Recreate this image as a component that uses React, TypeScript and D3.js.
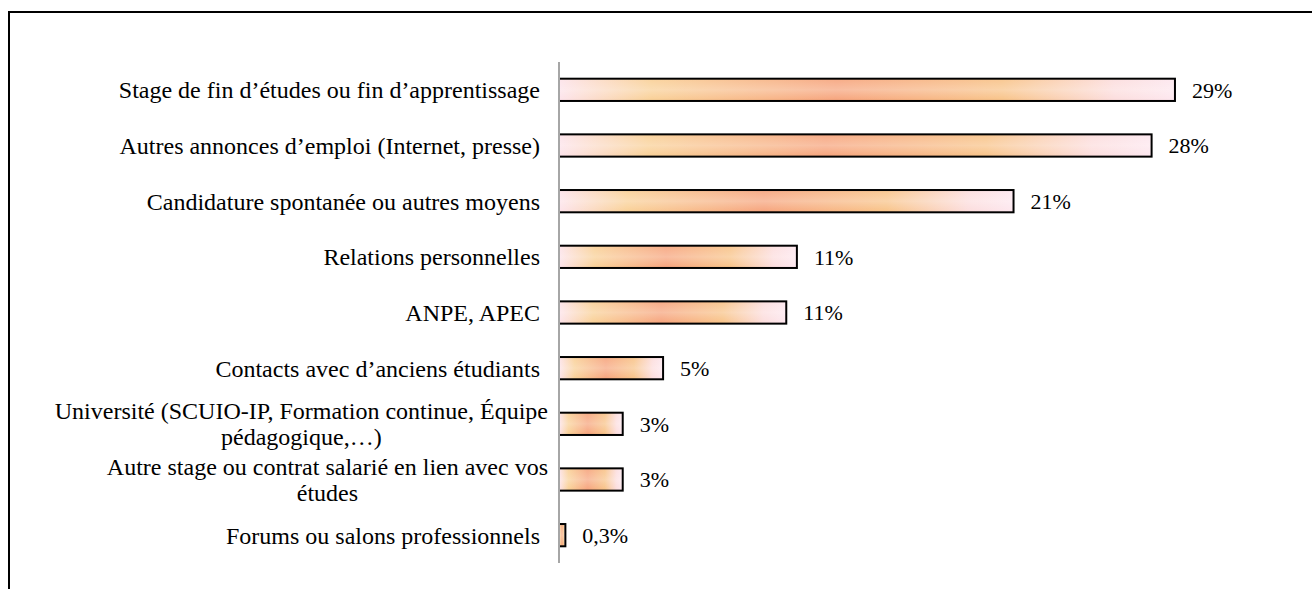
import { useEffect, useRef } from 'react';
import * as d3 from 'd3';

const WIDTH = 1312;
const HEIGHT = 589;

// categories, top to bottom (each label may be wrapped on several lines)
export const categories = [
    ['Stage de fin d’études ou fin d’apprentissage'],
    ['Autres annonces d’emploi (Internet, presse)'],
    ['Candidature spontanée ou autres moyens'],
    ['Relations personnelles'],
    ['ANPE, APEC'],
    ['Contacts avec d’anciens étudiants'],
    ['Université (SCUIO-IP, Formation continue, Équipe', 'pédagogique,…)'],
    ['Autre stage ou contrat salarié en lien avec vos', 'études'],
    ['Forums ou salons professionnels'],
];

export const values = [0.29, 0.279, 0.214, 0.112, 0.107, 0.049, 0.03, 0.03, 0.003];

export const valueLabels = ['29%', '28%', '21%', '11%', '11%', '5%', '3%', '3%', '0,3%'];

const PLOT = { left: 559, top: 62, bottom: 563 };
const FONT = '"Liberation Serif", "Times New Roman", serif';
const LABEL_SIZE = 24;
const VALUE_SIZE = 22;
const LINE_H = 26;

const App = () => {
    const axesRef = useRef(null);
    const labelsRef = useRef(null);

    const yScale = d3
        .scaleBand()
        .domain(categories.map((c, i) => String(i)))
        .range([PLOT.top, PLOT.bottom])
        .paddingInner(0.6)
        .paddingOuter(0.3);

    const xScale = d3
        .scaleLinear()
        .domain([0, 0.35])
        .range([PLOT.left, PLOT.left + 0.35 * 2124]);

    useEffect(() => {
        const g = d3.select(axesRef.current);
        g.selectAll('*').remove();
        g.append('line')
            .attr('x1', PLOT.left)
            .attr('x2', PLOT.left)
            .attr('y1', PLOT.top)
            .attr('y2', PLOT.bottom)
            .attr('stroke', '#a6a6a6')
            .attr('stroke-width', 2);

        // wrapped labels: block right-aligned, lines centred on the widest one
        d3.select(labelsRef.current)
            .selectAll('text.wrapped')
            .each(function () {
                const t = d3.select(this);
                let w = 0;
                t.selectAll('tspan').each(function () {
                    w = Math.max(w, (this as SVGTSpanElement).getComputedTextLength());
                });
                t.selectAll('tspan').attr('x', 548 - w / 2);
            });
    }, []);

    const bars = values.map((v, i) => {
        const y = yScale(String(i)) || 0;
        return (
            <g key={i}>
                <rect
                    x={xScale(0)}
                    y={y}
                    width={xScale(v) - xScale(0)}
                    height={yScale.bandwidth()}
                    fill="url(#barGrad)"
                />
                <rect
                    x={xScale(0)}
                    y={y}
                    width={xScale(v) - xScale(0)}
                    height={yScale.bandwidth()}
                    fill="url(#barShine)"
                    stroke="#000"
                    strokeWidth={2}
                />
                <text
                    x={xScale(v) + 17}
                    y={y + yScale.bandwidth() / 2}
                    dy="0.35em"
                    fontSize={VALUE_SIZE}
                    fontFamily={FONT}
                    fill="#000"
                >
                    {valueLabels[i]}
                </text>
            </g>
        );
    });

    const labels = categories.map((lines, i) => {
        const cy = (yScale(String(i)) || 0) + yScale.bandwidth() / 2;
        if (lines.length === 1) {
            return (
                <text
                    key={i}
                    x={540}
                    y={cy}
                    dy="0.35em"
                    textAnchor="end"
                    fontSize={LABEL_SIZE}
                    fontFamily={FONT}
                >
                    {lines[0]}
                </text>
            );
        }
        const y0 = cy - ((lines.length - 1) * LINE_H) / 2;
        return (
            <text
                key={i}
                className="wrapped"
                fontSize={LABEL_SIZE}
                fontFamily={FONT}
                textAnchor="middle"
            >
                {lines.map((l, j) => (
                    <tspan key={j} x={294} y={y0 + j * LINE_H} dy="0.35em">
                        {l}
                    </tspan>
                ))}
            </text>
        );
    });

    return (
        <svg
            width={WIDTH}
            height={HEIGHT}
            style={{ position: 'absolute', left: 0, top: 0, background: '#fff' }}
        >
            <defs>
                <linearGradient id="barGrad" x1="0" x2="1" y1="0" y2="0">
                    <stop offset="0" stopColor="#fde2ea" />
                    <stop offset="0.15" stopColor="#f9cf94" />
                    <stop offset="0.45" stopColor="#f6a27a" />
                    <stop offset="0.72" stopColor="#f8c286" />
                    <stop offset="0.9" stopColor="#fcdcdc" />
                    <stop offset="1" stopColor="#fde6ee" />
                </linearGradient>
                <linearGradient id="barShine" x1="0" x2="0" y1="0" y2="1">
                    <stop offset="0" stopColor="#fff" stopOpacity={0.1} />
                    <stop offset="0.5" stopColor="#fff" stopOpacity={0.3} />
                    <stop offset="1" stopColor="#fff" stopOpacity={0} />
                </linearGradient>
            </defs>
            <rect x={9} y={12} width={1400} height={700} fill="none" stroke="#000" strokeWidth={2} />
            {bars}
            <g ref={labelsRef}>{labels}</g>
            <g ref={axesRef} />
        </svg>
    );
};

export default App;
